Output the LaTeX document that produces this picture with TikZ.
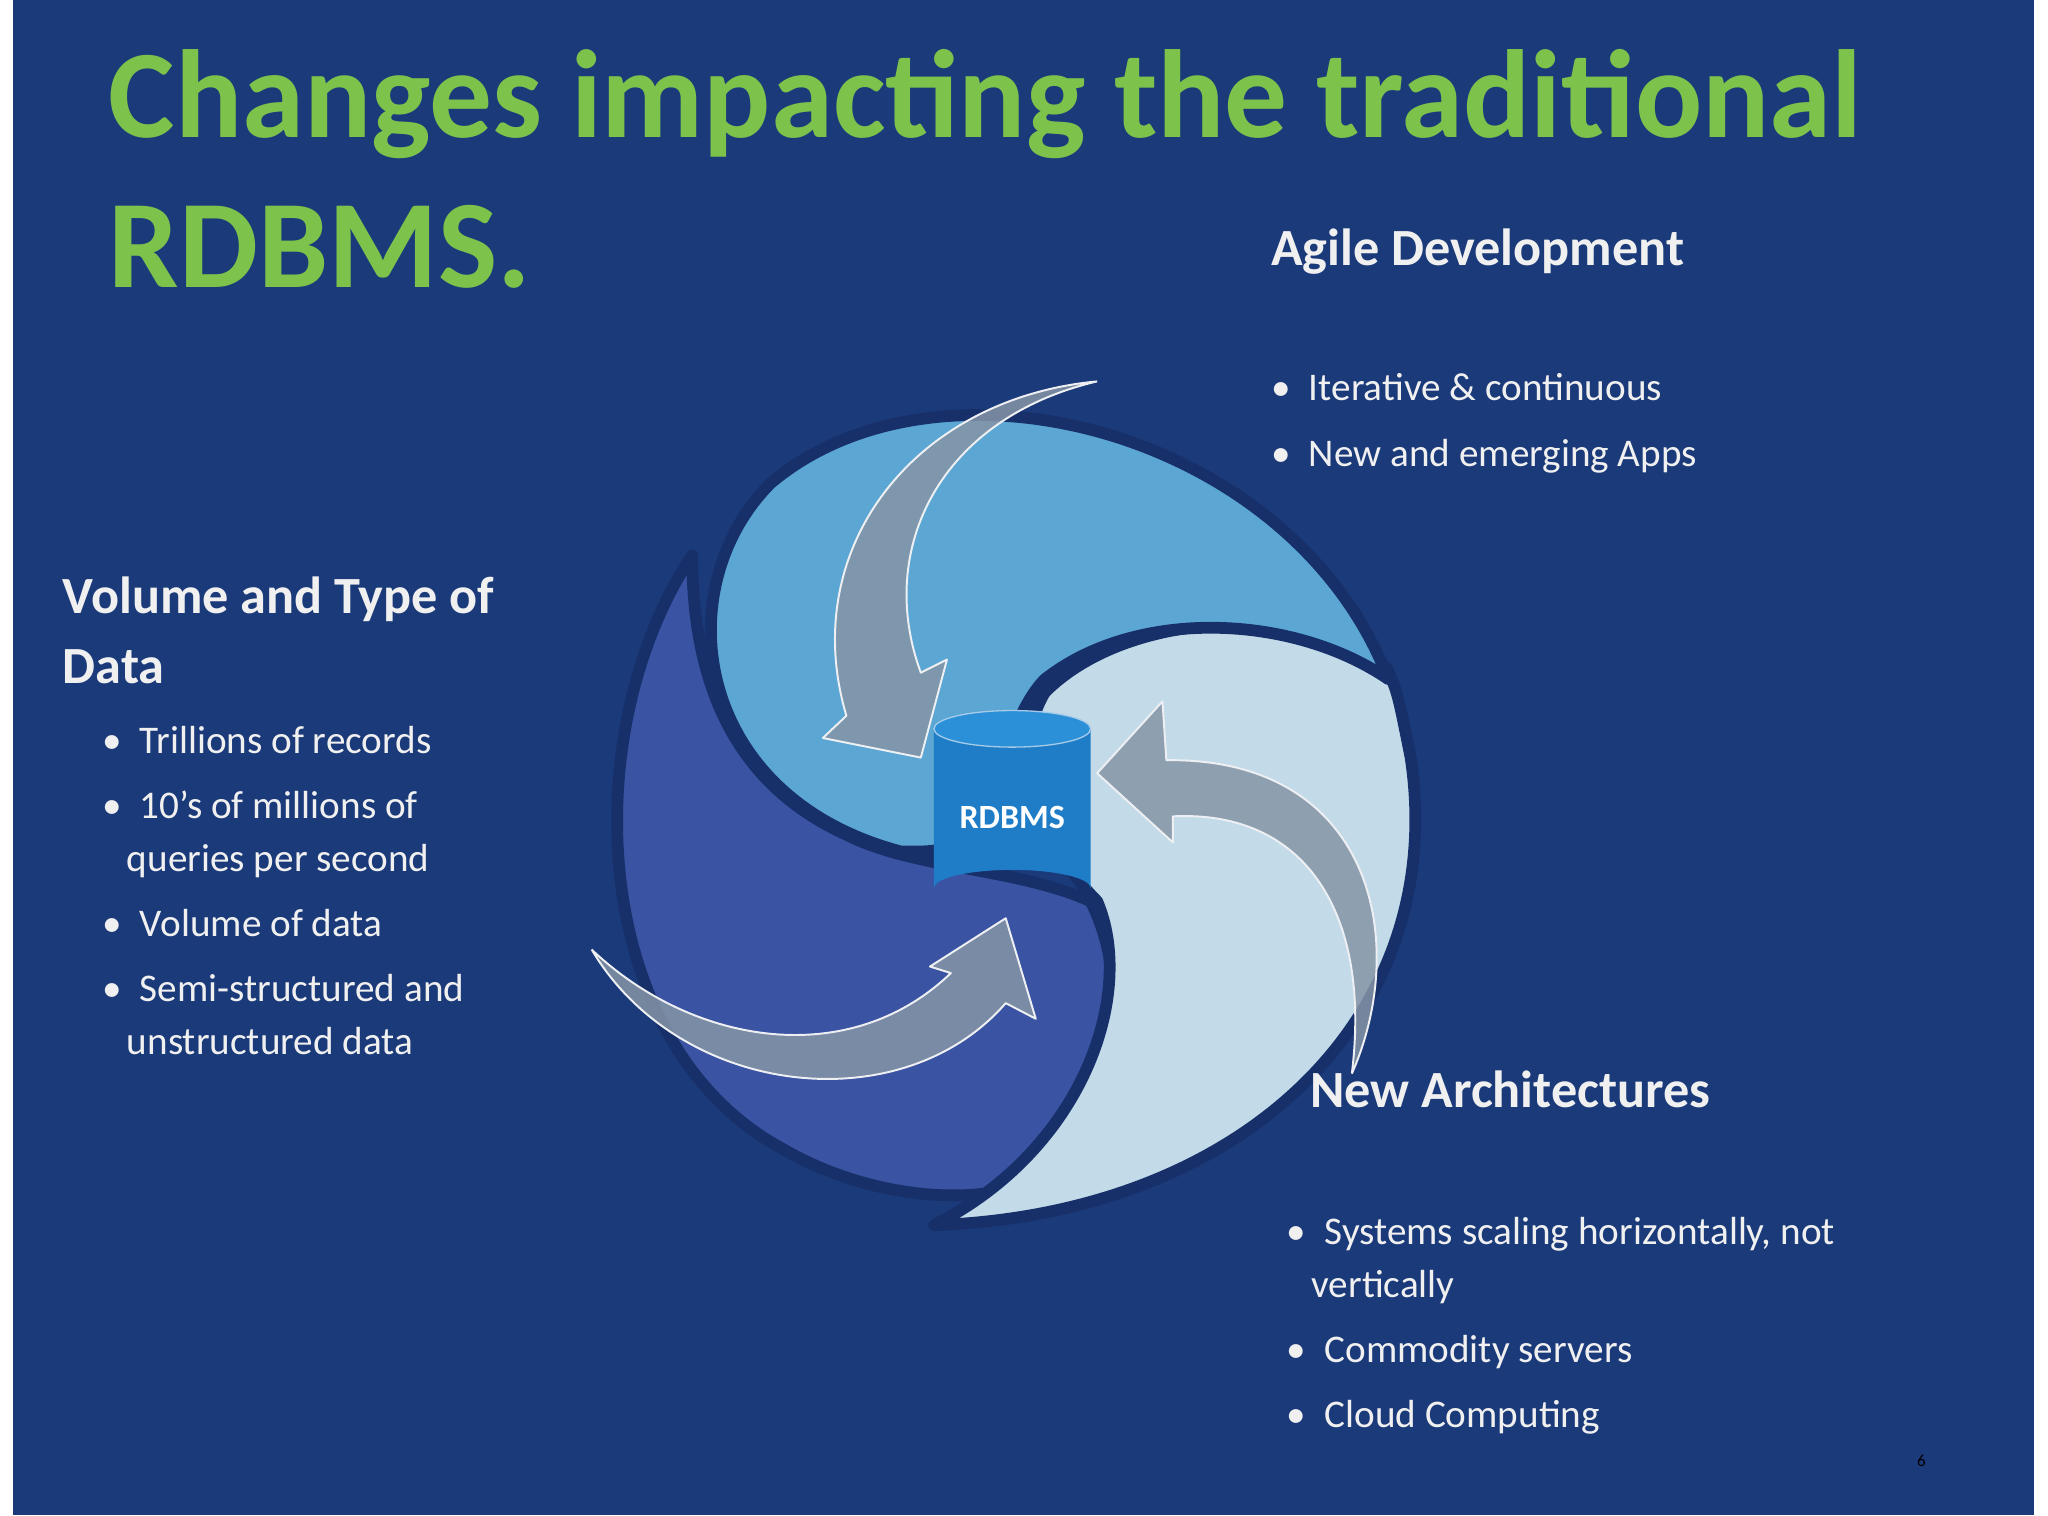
\documentclass[tikz,border=0pt]{standalone}
\usepackage{fontspec}
\setmainfont{Carlito}
\definecolor{bg}{HTML}{1B3A7A}
\definecolor{gap}{HTML}{17306A}
\definecolor{ttl}{HTML}{7DC24B}
\definecolor{bladeA}{HTML}{5BA6D3}
\definecolor{bladeB}{HTML}{3A53A2}
\definecolor{bladeC}{HTML}{C3DAE8}
\definecolor{arr}{HTML}{8595A6}
\definecolor{cyl}{HTML}{1E7DC6}
\definecolor{cyltop}{HTML}{2C90D8}
\tikzset{
 blade/.style={draw=gap,line width=9pt,line join=round},
 bigarrow/.style={fill=arr,fill opacity=0.85,draw=white!85!arr,line width=1.5pt,line join=round},
 head/.style={font=\fontsize{40}{48}\selectfont\bfseries,text=white!94!black,anchor=base west,inner sep=0pt},
 bul/.style={font=\fontsize{30}{36}\selectfont,text=white!94!black,anchor=base west,inner sep=0pt},
 ttlstyle/.style={font=\fontsize{96}{110}\selectfont\bfseries,text=ttl,anchor=base west,inner sep=0pt}
}
\begin{document}
\begin{tikzpicture}[x=1pt,y=-1pt]
\useasboundingbox (0,0) rectangle (1568,1160);
\fill[white] (0,0) rectangle (1568,1160);
\fill[bg] (10,0) rectangle (1557,1160);
% blades
\path[blade,fill=bladeB] (530,425) .. controls (440,560) and (450,800) .. (600,880)
 .. controls (660,915) and (740,925) .. (790,905)
 .. controls (850,850) and (870,760) .. (835,690)
 .. controls (780,665) and (700,665) .. (650,640)
 .. controls (560,600) and (530,520) .. cycle;
\path[blade,fill=bladeC] (715,938) .. controls (950,930) and (1110,780) .. (1080,580)
 .. controls (1070,530) .. (1062,512)
 .. controls (990,460) and (860,470) .. (800,530)
 .. controls (770,580) and (800,650) .. (840,690)
 .. controls (870,760) and (830,880) .. cycle;
\path[blade,fill=bladeA] (1063,520) .. controls (990,330) and (720,260) .. (590,370)
 .. controls (510,450) and (530,610) .. (690,652)
 .. controls (720,652) .. (740,640)
 .. controls (770,580) and (780,540) .. (800,520)
 .. controls (870,465) and (990,470) .. cycle;
% arrows
\path[bigarrow] (840,292) .. controls (700,305) and (610,420) .. (648,548)
 -- (630,565) -- (705,580) -- (725,505) -- (705,515)
 .. controls (670,420) and (720,320) .. (840,292);
\path[bigarrow] (1035,822) .. controls (1080,720) and (1050,580) .. (893,582)
 -- (890,537) -- (840,592) -- (898,645) -- (898,625)
 .. controls (1000,620) and (1050,700) .. (1035,822);
\path[bigarrow] (453,727) .. controls (520,840) and (690,860) .. (770,768)
 -- (793,780) -- (770,703) -- (712,740) -- (728,745)
 .. controls (650,820) and (530,800) .. (453,727);
% cylinder
\fill[cyl] (715,558) -- (715,680) arc[start angle=180,end angle=360,x radius=60,y radius=14] -- (835,558) -- cycle;
\fill[cyltop] (775,558) ellipse[x radius=60,y radius=14];
\draw[white!60!cyl,line width=1pt] (775,558) ellipse[x radius=60,y radius=14];
\node[font=\fontsize{26}{30}\selectfont\bfseries,text=white] (db) at (775,626) {RDBMS};
% title
\node[ttlstyle] (t1) at (83,105) {Changes impacting the traditional};
\node[ttlstyle] (t2) at (83,220) {RDBMS.};
% agile
\node[head] (h1) at (973,203) {Agile Development};
\node[bul] (a1) at (973,307) {•\hspace{14pt}Iterative \& continuous};
\node[bul] (a2) at (973,357) {•\hspace{14pt}New and emerging Apps};
% volume
\node[head] (h2) at (48,470) {Volume and Type of};
\node[head] (h2b) at (48,523) {Data};
\node[bul] (v1) at (78,577) {•\hspace{14pt}Trillions of records};
\node[bul] (v2) at (78,627) {•\hspace{14pt}10’s of millions of};
\node[bul] (v2b) at (97,667) {queries per second};
\node[bul] (v3) at (78,717) {•\hspace{14pt}Volume of data};
\node[bul] (v4) at (78,767) {•\hspace{14pt}Semi-structured and};
\node[bul] (v4b) at (97,807) {unstructured data};
% new arch
\node[head] (h3) at (1003,848) {New Architectures};
\node[bul] (n1) at (985,953) {•\hspace{14pt}Systems scaling horizontally, not};
\node[bul] (n1b) at (1004,993) {vertically};
\node[bul] (n2) at (985,1043) {•\hspace{14pt}Commodity servers};
\node[bul] (n3) at (985,1093) {•\hspace{14pt}Cloud Computing};
\node[font=\fontsize{13}{15}\selectfont,text=black,anchor=base] (pg) at (1471,1123) {6};
\end{tikzpicture}
\end{document}
